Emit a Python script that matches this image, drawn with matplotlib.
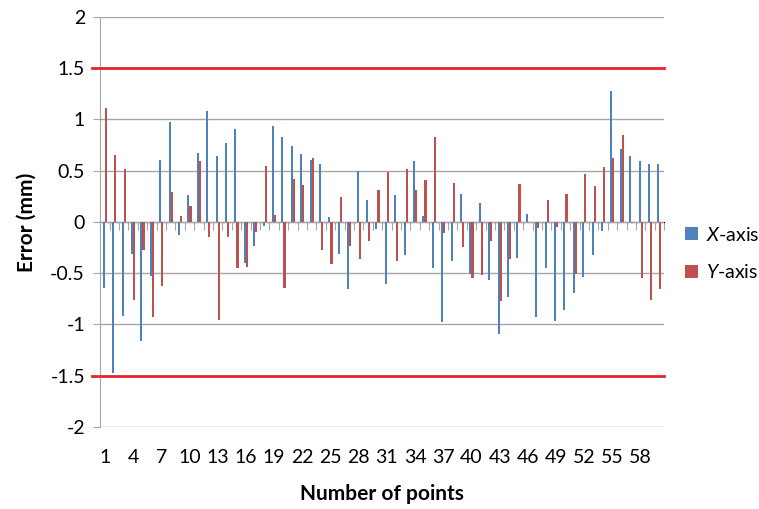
import numpy as np
import matplotlib.pyplot as plt

plt.rcParams['font.family'] = ['Lato', 'DejaVu Sans']
plt.rcParams['mathtext.fontset'] = 'custom'
plt.rcParams['mathtext.it'] = 'Lato:italic'
plt.rcParams['mathtext.rm'] = 'Lato'

points = np.arange(1, 61)
x_err = [-0.64, -1.47, -0.92, -0.31, -1.16, -0.53, 0.60, 0.97, -0.13, 0.26,
         0.67, 1.08, 0.64, 0.77, 0.91, -0.40, -0.23, -0.04, 0.94, 0.83,
         0.74, 0.66, 0.60, 0.56, 0.045, -0.31, -0.65, 0.50, 0.21, -0.07,
         -0.61, 0.26, -0.32, 0.59, 0.06, -0.45, -0.98, -0.38, 0.27, -0.51,
         0.18, -0.57, -1.09, -0.73, -0.35, 0.075, -0.93, -0.45, -0.97, -0.86,
         -0.69, -0.54, -0.32, -0.085, 1.28, 0.71, 0.64, 0.59, 0.56, 0.56]
y_err = [1.11, 0.65, 0.52, -0.76, -0.27, -0.93, -0.62, 0.29, 0.06, 0.16,
         0.59, -0.15, -0.96, -0.15, -0.45, -0.44, -0.10, 0.55, 0.065, -0.64,
         0.42, 0.36, 0.62, -0.27, -0.41, 0.24, -0.23, -0.36, -0.185, 0.31,
         0.49, -0.38, 0.52, 0.31, 0.41, 0.83, -0.11, 0.38, -0.24, -0.55,
         -0.52, -0.185, -0.77, -0.36, 0.37, 0.0, -0.06, 0.21, -0.05, 0.27,
         -0.51, 0.47, 0.35, 0.54, 0.62, 0.85, -0.01, -0.55, -0.76, -0.65]
limits = [1.5, -1.5]
xtick_pos = np.arange(1, 61, 3)

blue = '#4f81bd'
red = '#c0504d'
grid = '#a6a6a6'

fig = plt.figure(figsize=(7.59, 5.09), dpi=100)
ax = fig.add_axes([0.132, 0.161, 0.743, 0.806])

w = 0.22
ax.bar(points - 0.11, x_err, width=w, color=blue, label=r'$\mathit{X}$-axis', zorder=3)
ax.bar(points + 0.11, y_err, width=w, color=red, label=r'$\mathit{Y}$-axis', zorder=3)

for v in limits:
    ax.axhline(v, xmin=-0.014, xmax=1.0, color='#e8232a', linewidth=2, clip_on=False, zorder=4)

ax.set_xlim(0.5, 60.5)
ax.set_ylim(-2, 2)
ax.set_yticks(np.arange(-2, 2.01, 0.5))
ax.set_yticklabels(['-2', '-1.5', '-1', '-0.5', '0', '0.5', '1', '1.5', '2'])
ax.yaxis.grid(True, color=grid, linewidth=1)
ax.set_axisbelow(True)

ax.set_xticks(xtick_pos)
ax.set_xticklabels([str(p) for p in xtick_pos])
ax.tick_params(axis='x', length=0, labelsize=14, pad=16)
ax.tick_params(axis='y', length=5, color=grid, labelsize=14, pad=6)

for s in ['top', 'right', 'bottom']:
    ax.spines[s].set_visible(False)
ax.spines['left'].set_color(grid)

# horizontal axis line crossing at zero with category ticks
sec = ax.secondary_xaxis(0.5)
sec.set_xticks(np.arange(0.5, 61, 1))
sec.set_xticklabels([])
sec.xaxis.set_ticks_position('bottom')
sec.tick_params(axis='x', which='both', top=False, bottom=True, length=6,
                color=grid, direction='out')
sec.spines['bottom'].set_color(grid)

ax.set_ylabel('Error (mm)', fontsize=15, fontweight='bold', labelpad=10)
ax.set_xlabel('Number of points', fontsize=15, fontweight='bold', labelpad=13)

fig.legend(loc='center left', bbox_to_anchor=(0.88, 0.502), frameon=False,
           fontsize=14, handlelength=0.65, handleheight=0.65, handletextpad=0.4,
           labelspacing=1.0)

fig.savefig('out.png', dpi=100)
